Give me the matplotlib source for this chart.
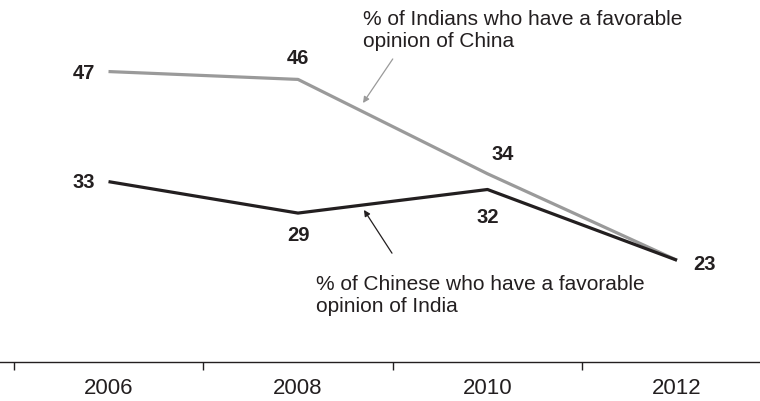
"""Indian and Chinese favorable views of each other, 2006-2012."""

import matplotlib

matplotlib.use("Agg")
import matplotlib.pyplot as plt  # noqa: E402

years = ["2006", "2008", "2010", "2012"]
india_fav_china = [47, 46, 34, 23]
china_fav_india = [33, 29, 32, 23]

GRAY = "#9a9a9a"
DARK = "#231f20"

plt.rcParams["font.family"] = ["Liberation Sans", "DejaVu Sans"]

fig = plt.figure(figsize=(7.6, 4.01), dpi=100)
ax = fig.add_axes([0, 0, 1, 1])
x = list(range(len(years)))

ax.plot(x, india_fav_china, color=GRAY, lw=2.3, solid_capstyle="butt", zorder=2)
ax.plot(x, china_fav_india, color=DARK, lw=2.3, solid_capstyle="butt", zorder=3)

# value labels, offsets in points from each point
num = dict(fontsize=14.5, fontweight="bold", color=DARK, ha="center", va="center",
           textcoords="offset points")
gray_off = [(-17.5, -1.5), (0, 15), (11, 14), None]
dark_off = [(-17.5, -0.5), (0, -16), (0, -20), (20, -3)]
for i, off in enumerate(gray_off):
    if off:
        ax.annotate(str(india_fav_china[i]), (x[i], india_fav_china[i]), xytext=off, **num)
for i, off in enumerate(dark_off):
    ax.annotate(str(china_fav_india[i]), (x[i], china_fav_india[i]), xytext=off, **num)

# callouts
ax.text(1.343, 54.8, "% of Indians who have a favorable\nopinion of China",
        fontsize=15, color=DARK, ha="left", va="top", linespacing=1.2)
ax.annotate("", xy=(1.343, 43.0), xytext=(1.5, 48.6),
            arrowprops=dict(arrowstyle="-|>", color=GRAY, lw=0.9,
                            mutation_scale=9, shrinkA=0, shrinkB=0))
ax.text(1.095, 21.1, "% of Chinese who have a favorable\nopinion of India",
        fontsize=15, color=DARK, ha="left", va="top", linespacing=1.2)
ax.annotate("", xy=(1.348, 29.4), xytext=(1.496, 23.9),
            arrowprops=dict(arrowstyle="-|>", color=DARK, lw=0.9,
                            mutation_scale=9, shrinkA=0, shrinkB=0))

ax.set_xlim(-0.5726, 3.4380)
ax.set_ylim(5.1, 56.1)

for side in ("top", "right", "left"):
    ax.spines[side].set_visible(False)
ax.spines["bottom"].set_position(("data", 10.0))
ax.spines["bottom"].set_color(DARK)
ax.spines["bottom"].set_linewidth(1.0)
ax.set_yticks([])
ax.set_xticks(x)
ax.set_xticklabels(years, fontsize=16, color=DARK)
ax.tick_params(axis="x", which="major", length=0, pad=11)
ax.set_xticks([-0.5, 0.5, 1.5, 2.5], minor=True)
ax.tick_params(axis="x", which="minor", length=6, width=1.0, color=DARK, direction="out")

fig.savefig("out.png", dpi=100)
plt.close(fig)
